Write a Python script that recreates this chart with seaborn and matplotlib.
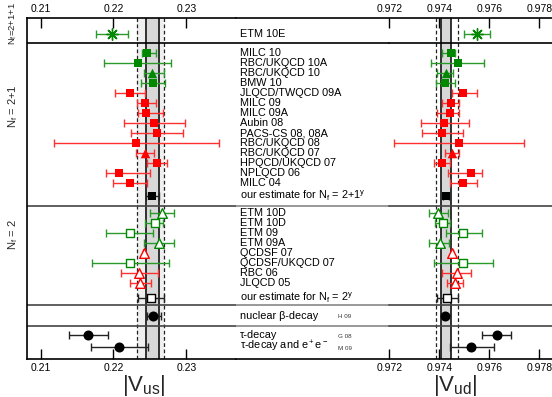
import numpy as np
import pandas as pd
import matplotlib
matplotlib.use("Agg")
import matplotlib.pyplot as plt
import seaborn as sns
from matplotlib.transforms import blended_transform_factory

sns.set_theme(style="white")
plt.rcParams["font.family"] = ["Liberation Sans", "DejaVu Sans"]
plt.rcParams["mathtext.default"] = "regular"
plt.rcParams["axes.edgecolor"] = "black"
plt.rcParams["axes.linewidth"] = 1.2

# ---------------- data ----------------
labels = [
    "ETM 10E",
    "MILC 10", "RBC/UKQCD 10A", "RBC/UKQCD 10", "BMW 10", "JLQCD/TWQCD 09A",
    "MILC 09", "MILC 09A", "Aubin 08", "PACS-CS 08, 08A", "RBC/UKQCD 08",
    "RBC/UKQCD 07", "HPQCD/UKQCD 07", "NPLQCD 06", "MILC 04",
    "our estimate for N$_f$ = 2+1$^y$",
    "ETM 10D", "ETM 10D", "ETM 09", "ETM 09A", "QCDSF 07", "QCDSF/UKQCD 07",
    "RBC 06", "JLQCD 05",
    "our estimate for N$_f$ = 2$^y$",
    "nuclear β-decay",
    "τ-decay", "τ-decay and e$^+$e$^-$",
]
symbol = ["star",
          "square", "square", "triangle", "square", "square", "square", "square",
          "square", "square", "square", "triangle", "square", "square", "square",
          "square",
          "triangle", "square", "square", "triangle", "triangle", "square",
          "triangle", "triangle",
          "square",
          "circle", "circle", "circle"]
colour = ["green",
          "green", "green", "green", "green", "red", "red", "red", "red", "red",
          "red", "red", "red", "red", "red",
          "black",
          "green", "green", "green", "green", "red", "green", "red", "red",
          "black",
          "black", "black", "black"]
filled = [True] * 16 + [False] * 9 + [True] * 3

vus = [0.21985,
       0.22457, 0.22333, 0.22534, 0.22543, 0.22224, 0.22438, 0.22451, 0.22561,
       0.22602, 0.22314, 0.22429, 0.22602, 0.22081, 0.22224,
       0.22534,
       0.22667, 0.22575, 0.22228, 0.22630, 0.22420, 0.22228, 0.22347, 0.22369,
       0.22516,
       0.22539,
       0.21647, 0.22081]
vus_lo = [0.21761,
          0.22392, 0.21875, 0.22416, 0.22383, 0.22018, 0.22320, 0.22333, 0.22145,
          0.22237, 0.21181, 0.22310, 0.22461, 0.21894, 0.21990,
          0.22447,
          0.22498, 0.22429, 0.21898, 0.22424, 0.22410, 0.21702, 0.22100, 0.22224,
          0.22333,
          0.22465,
          0.21387, 0.21693]
vus_hi = [0.22204,
          0.22588, 0.22794, 0.22690, 0.22712, 0.22433, 0.22584, 0.22680, 0.22986,
          0.22955, 0.23449, 0.22561, 0.22731, 0.22506, 0.22457,
          0.22626,
          0.22831, 0.22676, 0.22547, 0.22835, 0.22430, 0.22758, 0.22608, 0.22516,
          0.22690,
          0.22649,
          0.21922, 0.22475]

vud = [0.97552,
       0.97446, 0.97475, 0.97427, 0.97423, 0.97496, 0.97448, 0.97444, 0.97419,
       0.97412, 0.97478, 0.97450, 0.97412, 0.97528, 0.97496,
       0.97427,
       0.97395, 0.97415, 0.97496, 0.97404, 0.97452, 0.97496, 0.97470, 0.97463,
       0.97432,
       0.97423,
       0.97630, 0.97528]
vud_lo = [0.97500,
          0.97412, 0.97367, 0.97390, 0.97386, 0.97450, 0.97412, 0.97390, 0.97326,
          0.97330, 0.97219, 0.97423, 0.97380, 0.97435, 0.97443,
          0.97414,
          0.97358, 0.97383, 0.97426, 0.97358, 0.97448, 0.97379, 0.97410, 0.97430,
          0.97390,
          0.97419,
          0.97571, 0.97443]
vud_hi = [0.97604,
          0.97463, 0.97579, 0.97456, 0.97463, 0.97550, 0.97478, 0.97478, 0.97519,
          0.97496, 0.97740, 0.97479, 0.97443, 0.97572, 0.97552,
          0.97440,
          0.97436, 0.97443, 0.97571, 0.97438, 0.97456, 0.97616, 0.97528, 0.97496,
          0.97476,
          0.97427,
          0.97688, 0.97619]

# FLAG averages (inner band) and wider dashed band
vus_band = [0.22447, 0.22621]
vus_dash = [0.22328, 0.22694]
vud_band = [0.97406, 0.97447]
vud_dash = [0.97388, 0.97476]

group_labels = ["N$_f$=2+1+1", "N$_f$ = 2+1", "N$_f$ = 2"]
source_labels = ["H 09", "G 08", "M 09"]
vus_ticks = [0.21, 0.22, 0.23]
vud_ticks = [0.972, 0.974, 0.976, 0.978]

# ---------------- layout ----------------
row_y = ([1.57] + [3.53 + i for i in range(14)] + [17.8]
         + [19.5 + i for i in range(8)] + [27.97, 29.77, 31.72, 32.85])
sep_y = [2.53, 18.8, 28.73, 30.77]
group_y = [0.5, 8.8, 21.7]
source_y = [29.9, 31.85, 33.0]

df = pd.DataFrame(dict(label=labels, symbol=symbol, colour=colour, filled=filled,
                       vus=vus, vus_lo=vus_lo, vus_hi=vus_hi,
                       vud=vud, vud_lo=vud_lo, vud_hi=vud_hi, y=row_y))

W, H = 552, 397
fig = plt.figure(figsize=(W / 100, H / 100), dpi=100)
top_px, bot_px = 18, 359.3
x_split = 236
axL = fig.add_axes([27 / W, 1 - bot_px / H, (x_split - 27) / W, (bot_px - top_px) / H])
axR = fig.add_axes([x_split / W, 1 - bot_px / H, (551.5 - x_split) / W, (bot_px - top_px) / H])

axL.set_xlim(0.208148, 0.236818)
axR.set_xlim(0.965868, 0.978488)
for ax in (axL, axR):
    ax.set_ylim(34.13, 0)
    ax.set_yticks([])
    ax.set_facecolor("white")
axL.spines["right"].set_visible(False)
axR.spines["left"].set_visible(False)
axR.spines["right"].set_visible(False)

marker_map = {"square": "s", "triangle": "^", "circle": "o", "star": (8, 2, 0)}
size_map = {"square": 38, "triangle": 48, "circle": 52, "star": 70}
mcol = {"green": "#008800", "red": "#ff0000", "black": "#000000"}
ecol = {"green": "#2a9a2a", "red": "#ff3030", "black": "#222222"}

# bands
axL.axvspan(*vus_dash, color="#efefef", zorder=0, lw=0)
axL.axvspan(*vus_band, color="#d8d8d8", zorder=0.5, lw=0)
axR.axvspan(*vud_band, color="#d8d8d8", zorder=0.5, lw=0)
for ax, band, dash in ((axL, vus_band, vus_dash), (axR, vud_band, vud_dash)):
    for v in band:
        ax.axvline(v, color="#222222", lw=1.3, zorder=1)
    for v in dash:
        ax.axvline(v, color="#222222", lw=0.9, ls=(0, (3, 2)), zorder=1)

# separators
frac_mid = (0.972 - 0.965868) / (0.978488 - 0.965868)
for i, s in enumerate(sep_y):
    c = "black" if i == 0 else "#444444"
    axL.axhline(s, color=c, lw=1.2, zorder=1.5)
    axR.axhline(s, xmin=0, xmax=frac_mid, color="black" if i == 0 else "#888888", lw=1.2, zorder=1.5)
    axR.axhline(s, xmin=frac_mid, xmax=1, color=c, lw=1.2, zorder=1.5)

# error bars and markers
for ax, xc, lo, hi in ((axL, "vus", "vus_lo", "vus_hi"), (axR, "vud", "vud_lo", "vud_hi")):
    for ck in ["green", "red", "black"]:
        sub = df[df.colour == ck]
        ax.errorbar(sub[xc], sub["y"],
                    xerr=[sub[xc] - sub[lo], sub[hi] - sub[xc]],
                    fmt="none", ecolor=ecol[ck], elinewidth=1.0,
                    capsize=3.2, capthick=1.0, zorder=2)
    for (sym, ck, fl), sub in df.groupby(["symbol", "colour", "filled"]):
        if fl:
            kw = dict(color=mcol[ck], edgecolor=mcol[ck], linewidth=1.0 if sym == "star" else 0)
        else:
            kw = dict(color="white", edgecolor=mcol[ck], linewidth=1.0)
        sns.scatterplot(data=sub, x=xc, y="y", marker=marker_map[sym],
                        s=size_map[sym], ax=ax, zorder=3, legend=False, **kw)
    ax.set_xlabel("")
    ax.set_ylabel("")

axL.set_xticks(vus_ticks)
axL.set_xticklabels([f"{t:.2f}" for t in vus_ticks])
axR.set_xticks(vud_ticks)
axR.set_xticklabels([f"{t:.3f}" for t in vud_ticks])
for ax in (axL, axR):
    ax.tick_params(axis="x", which="both", top=True, bottom=True, labeltop=True,
                   labelbottom=True, direction="in", length=7, width=1,
                   labelsize=7.5, pad=3, colors="black")
    ax.tick_params(axis="y", left=False, right=False)

# row labels
trR = blended_transform_factory(axR.transAxes, axR.transData)
x_lab = (240 - x_split) / (551.5 - x_split)
for lab, y in zip(labels, row_y):
    axR.text(x_lab, y, lab, transform=trR, ha="left", va="center",
             fontsize=7.8, color="black", zorder=4)
x_src = (338 - x_split) / (551.5 - x_split)
for lab, y in zip(source_labels, source_y):
    axR.text(x_src, y, lab, transform=trR, ha="left", va="center",
             fontsize=4.5, color="#333333")

# group labels
trL = blended_transform_factory(axL.transAxes, axL.transData)
x_grp = (13 - 27) / (x_split - 27)
for lab, y, fs in zip(group_labels, group_y, [6.8, 8, 8]):
    axL.text(x_grp, y, lab, transform=trL, rotation=90, ha="center", va="center",
             fontsize=fs, clip_on=False)

# axis titles
fig.text(144 / W, 1 - 373 / H, r"$|V_{us}|$", ha="center", va="top", fontsize=16)
fig.text(455 / W, 1 - 373 / H, r"$|V_{ud}|$", ha="center", va="top", fontsize=16)

fig.savefig("out.png", dpi=100, facecolor="white")
